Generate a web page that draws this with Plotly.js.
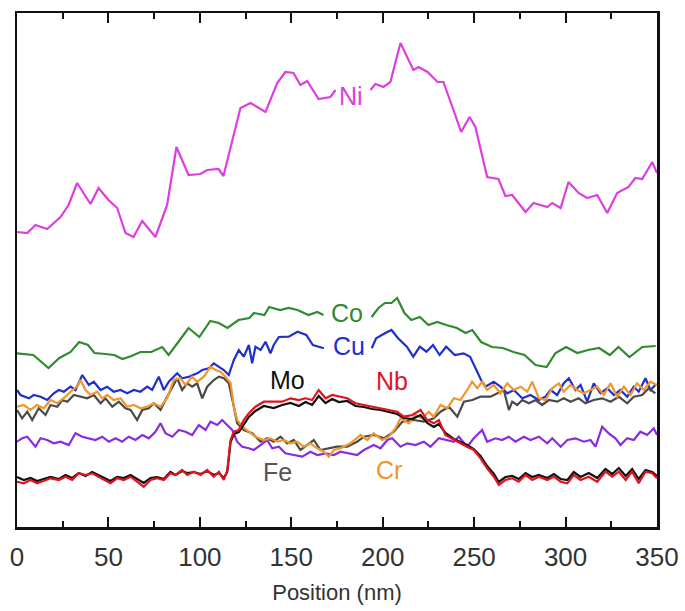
<!DOCTYPE html>
<html>
<head>
<meta charset="utf-8">
<script src="https://cdn.plot.ly/plotly-3.0.1.min.js"></script>
<style>html,body{margin:0;padding:0;background:#fff;}#chart{width:685px;height:611px;}</style>
</head>
<body>
<div id="chart"></div>
<script>
// Position (nm) and intensity (arbitrary units) for each element profile
const niX = [0,5.6,10.1,16.5,23.8,28.2,32.9,40.2,44.6,50.0,54.8,59.3,63.7,68.5,75.7,82.1,87.2,93.8,100.3,104,110.2,112.9,122.2,127.7,135.9,142.3,146.8,151.2,155,158.7,164.9,171.4,174.2,184,193.3,196,200.4,204.2,209.7,216.8,219.6,224.5,230,233.2,238.7,242.9,247.5,250.7,257.1,263.3,267.1,270.8,278.1,282.5,290,292.7,297.3,301.6,307.1,311.8,317.3,322.8,328.2,334.4,338.2,341.9,347.4,350];
const niY = [295,294,302,298,310,322,344,323,339,327,319,294,290,306,290,322,380,352,353,357,358,351,419,424,415,444,455,454,442,446,428,430,437,null,437,443,440,445,484,457,460,455,445,445,417,395,410,400,350,348,331,332,315,324,320,324,319,345,334,329,332,314,334,340,349,348,365,354];

const coX = [0,8.9,17.2,23.2,29.3,34,38.8,42.4,48.4,53.1,57.7,62.6,67.5,73.4,79.4,82.9,87.8,93.8,99.7,105.7,110.4,115.1,121.1,127.1,129.6,135.3,137.9,143.9,148.5,153.4,159.4,164.2,167.6,180,193.9,197.7,201.2,204.8,207.9,211.9,215.6,220.3,225,229.9,234.7,240.6,245.3,249,253.8,259.8,265.7,271.5,277.5,283.6,289.6,294.5,300.3,306.4,312.3,318.3,324.2,328.9,334.9,342,349.3];
const coY = [173.7,172,159,169,175,185,182,174,173,172,168,171,175,175,180,172,184,199,190,206,204,199,207,209,214,212,220,217,219,217,212,215,212,null,210,219,224,224,229,214,207,210,202,205,202,199,194,197,185,180,179,175,172,162,160,174,180,174,177,179,172,180,170,180,181];

const cuX = [0,1.9,6.5,9.2,12.9,16.5,20.1,22.9,25.6,29.3,32,35.7,39.3,42,45.7,49.3,52.9,56.6,60.3,63.9,67.5,71.2,73.9,77.5,80.3,83,87.6,90.3,94,98.5,101.3,104.9,107.6,110.4,113.1,115.8,118.6,121.3,124,126.8,128.6,130.4,133.2,135.9,138.6,140.4,143.2,148.6,153.4,158.2,161.8,167.8,180,194,196.4,201.2,204.8,208.4,213.2,216.7,220.3,223.9,227.5,231.1,234.7,239.4,244.2,247.8,250.2,253.8,256.2,258,260.7,264.4,268.1,271.7,276.3,280.8,285.4,289,291.8,295.4,299,301.8,305.4,308.2,311.8,315.4,319.1,322.8,326.4,330,333.7,337.3,340,343.7,346.4,349.1];
const cuY = [137,132,128.7,132,130.3,127,133.7,137,135.3,140.3,137,152,142,145.3,137,140.3,135.3,137,133.7,137,135.3,140.3,137,150.3,137,145.3,153.7,148.7,150.3,153.7,157,158.7,163.7,160.3,157,152,167,177,170.3,182,163.7,180.3,177,185.3,173.7,182,190,190.3,195.3,192,182,178.7,null,178.7,188.7,193.7,197,188.7,180.3,170.3,180.3,175.3,182,172,180.3,172,173.7,170.3,160.3,147,140.3,142,145.3,140.3,133.7,137,128.7,132,127,130.3,137,132,143.7,148.7,137,142,125.3,143.7,133.7,138.7,132,137,130.3,140.3,135.3,148.7,137,142];

const crX = [0,3.7,7.4,11,14.7,18.3,22,26.5,30.2,32.9,34.7,37.5,40.2,43.9,46.6,49.3,52.9,56.6,60.3,63.9,67.5,71.2,74.8,78.5,82.1,85.7,89.4,92.1,95.8,98.5,102.2,105.8,108.6,111.3,114,116.8,118.6,120.4,123.2,126.8,130.4,135,138.6,142.3,145.9,149.6,153.2,156.8,160.5,164.2,167.8,170.5,173.3,176.9,180.6,182.4,187.9,191.5,195.1,199.7,203.3,207,209.7,214.3,217.9,221.6,225.2,227.9,231.6,235.3,238.9,242.5,246.2,248.9,251.7,254.4,257.1,260.7,264.4,268.1,271.7,275.4,279,281.8,285.4,289,292.7,296.3,299,302.7,306.4,310,313.6,317.3,320.9,324.6,328.2,331.9,335.5,339.1,342.8,346.4,350];
const crY = [120.3,122,117,122,118.7,127,123.7,130.3,137,140.3,147,137,132,135.3,128.7,132,127,128.7,120.3,122,118.7,120.3,123.7,120.3,128.7,147,148.7,142,150.3,145.3,150.3,160.3,157,155.3,150.3,143.7,120.3,107,100.3,95.3,90.3,87,88.7,85.3,87,83.7,85.3,80.3,83.7,78.7,75.3,70.3,77,78.7,82,83.7,92,87,93.7,87,90.3,98.7,108.7,103.7,112,108.7,115.3,110.3,122,118.7,128.7,127,137,145.3,138.7,145.3,137,142,133.7,143.7,137,140.3,135.3,145.3,128.7,127,138.7,143.7,135.3,142,137,133.7,137,140.3,132,143.7,130.3,140.3,132,143.7,137,145.3,142];

const feX = [0,2.8,5.6,8.3,11.9,15.6,18.3,22,24.7,27.5,31.1,34.7,38.4,42,45.7,48.4,52.1,55.7,59.3,62.1,65.7,68.5,72.1,74.8,78.5,81.2,84.9,87.6,90.3,93.1,95.8,98.5,101.3,104,107.6,110.4,113.1,115.8,118.6,120.4,124,128.6,133.2,136.8,140.4,144.1,147.8,151.4,155,158.7,162.3,166,174.9,180.6,186,189.7,195.1,200.6,206.1,210.7,217,222.5,227.9,231.6,236.2,240.8,244.4,249,253.5,259,262.6,266.2,269,270.8,273.5,276.3,279.9,283.6,287.2,290.8,295.4,299,302.7,307.2,310.9,315.4,320,324.6,329.1,333.7,337.3,341.9,345.5,349.1];
const feY = [117,108.7,115.3,107,118.7,112,122,120.3,127,125.3,132,130.3,128.7,132,123.7,128.7,120.3,125.3,118.7,117,107,117,118.7,123.7,117,127,140.3,148.7,137,143.7,140.3,143.7,128.7,140.3,147,150.3,148.7,143.7,120.3,103.7,97,93.7,85.3,88.7,85.3,90.3,83.7,87,77,82,87,77,80.3,80.3,85.3,90.3,92,88.7,95.3,105.3,107,105.3,108.7,115.3,120.3,110.3,125.3,127,130.3,130.3,133.7,137,117,125.3,122,127,123.7,127,122,127,125.3,128.7,125.3,128.7,123.7,127,128.7,125.3,130.3,123.7,130.3,132,138.7,133.7];

const violetX = [0,2.8,5.6,10.1,12.9,16.5,20.1,23.8,28.3,32,35.7,39.3,42.9,46.6,50.2,53.9,57.5,61.1,64.8,68.5,72.1,75.7,78.5,81.2,84.9,88.5,92.1,95.8,99.4,103.1,105.8,109.5,112.2,114.9,117.7,120.4,123.2,126.8,129.5,136.8,139.6,143.2,146.8,151.4,156,160.5,164.2,168.7,173.3,176.9,181.5,186,189.7,195.1,198.8,202.5,205.2,209.7,213.4,217.9,222.5,226.1,230.7,234.4,238.9,241.6,246.2,249.8,254.4,257.1,261.7,265.3,268.9,272.6,277.2,280.8,285.4,290,292.7,297.3,301,305.4,310,313.6,316.4,320,323.6,327.3,330,333.7,337.3,340.9,344.6,348.2,350];
const violetY = [85.3,88.7,90.3,80.3,88.7,87,83.7,85.3,82,93.7,90.3,88.7,87,90.3,85.3,88.7,85.3,90.3,87,92,88.7,95.3,103.7,93.7,90.3,97,95.3,92,102,97,105.3,102,107,102,97,85.3,80.3,78.7,77,87,78.7,80.3,73.7,72,70.3,75.3,72,73.7,72,75.3,73.7,72,77,82,78.7,87,88.7,80.3,83.7,82,85.3,80.3,88.7,87,85.3,90.3,80.3,88.7,97,85.3,88.7,87,90.3,85.3,90.3,87,90.3,83.7,88.7,80.3,87,88.7,85.3,87,80.3,100.3,93.7,88.7,82,88.7,87,95.3,92,98.7,92];

const nbX = [0,3.7,7.4,11,18.3,22.9,26.5,30.2,33.8,37.5,41.1,44.7,51.1,54.8,58.4,62.1,65.7,69.3,73,76.7,80.3,83.9,86.7,90.3,93.1,96.7,100.4,104,107.6,110.4,113.1,115,116.8,118.6,121.3,124,126.8,130.4,135,140.4,145,149.6,154.1,157.8,161.4,165,168.7,172.4,176,180.6,185.1,189.7,194.2,198.8,203.3,207.9,211.5,216.1,220.7,224.3,227.9,230.7,234.3,238.9,242.5,246.2,249.8,253.5,257.1,260.8,263.5,267.1,270.8,274.4,278.1,281.8,285.4,290,293.6,297.3,301,304.5,308.2,312.7,317.3,321.8,325.5,329.1,332.9,336.4,340,343.7,347.4,350];
const nbY = [45.3,43.7,47,43.7,48.7,47,50.3,47,53.7,52,53.7,50.3,43.7,48.7,47,50.3,45.3,40.3,47,48.7,47,53.7,52,57,52,55.3,52,57,50.3,55.3,47,57,87,95.3,97,107,113.7,120.3,125.3,125.3,125.3,128.7,127,128.7,127,137,128.7,132,130.3,128.7,123.7,122,120.3,118.7,117,115.3,110.3,112,117,107,103.7,107,92,87,83.7,80.3,77,68.7,58.7,50.3,42,47,48.7,45.3,52,47,50.3,47,50.3,45.3,43.7,52,47,50.3,45.3,55.3,50.3,55.3,47,55.3,43.7,55.3,53.7,48.7];

const moX = nbX;
const moY = [50,47,49,46,50,48,52,49,54,51,55,52,46,50,49,52,48,44,49,50,48,55,52,56,54,55,53,56,52,54,49,55,85,93,95,103,110,116,121,119,122,124,121,125,122,131,124,128,125,126,121,120,118,117,115,113,109,108,112,104,100,103,94,88,85,82,78,71,61,53,45,50,51,48,54,50,52,49,53,48,47,55,50,54,49,58,53,59,51,58,48,57,55,51];

// Element labels: name, x, y, colour
const labelNames = ['Ni','Co','Cu','Mo','Nb','Fe','Cr'];
const labelX = [182.4,180.7,181.3,147.9,205.3,142.5,203.7];
const labelY = [431,214,181,147,146,55,57];
const labelColors = ['#dd3ee0','#2e8b2e','#1f2fd0','#111111','#e0141e','#555555','#f0962a'];

const W = 2.2;
const mk = (x, y, color) => ({x, y, type:'scatter', mode:'lines', line:{color, width:W}, hoverinfo:'skip', connectgaps:false});

const traces = [
  mk(niX, niY, '#dd3ee0'),
  mk(coX, coY, '#2e8b2e'),
  mk(cuX, cuY, '#1f2fd0'),
  mk(violetX, violetY, '#8a2be2'),
  mk(feX, feY, '#4a4a4a'),
  mk(crX, crY, '#f0962a'),
  mk(moX, moY, '#111111'),
  mk(nbX, nbY, '#e0141e')
];

const font = 'Liberation Sans, Arial, Helvetica, sans-serif';
const annotations = labelNames.map((t, i) => ({
  x: labelX[i], y: labelY[i], xref:'x', yref:'y', text:t, showarrow:false,
  font:{family:font, size:25, color:labelColors[i]}, xanchor:'center', yanchor:'middle'
}));

const layout = {
  width:685, height:611,
  margin:{l:17, r:28, t:13, b:84, pad:0},
  paper_bgcolor:'#ffffff', plot_bgcolor:'#ffffff',
  showlegend:false,
  font:{family:font, color:'#333'},
  xaxis:{
    range:[0,350], tick0:0, dtick:50, ticks:'inside', ticklen:10, tickwidth:2, tickcolor:'#111',
    showline:true, linewidth:2.5, linecolor:'#111', mirror:'ticks',
    showgrid:false, zeroline:false,
    tickfont:{family:font, size:26, color:'#333'},
    ticklabelstandoff:5,
    minor:{dtick:25, ticks:'inside', ticklen:6, tickwidth:2, tickcolor:'#111', showgrid:false},
    title:{text:'Position (nm)', font:{family:font, size:22, color:'#333'}, standoff:14}
  },
  yaxis:{
    range:[0,514], showticklabels:false, ticks:'', showline:true, linewidth:2.5, linecolor:'#111',
    mirror:true, showgrid:false, zeroline:false
  },
  annotations
};

Plotly.newPlot('chart', traces, layout, {displayModeBar:false, staticPlot:true});
</script>
</body>
</html>
